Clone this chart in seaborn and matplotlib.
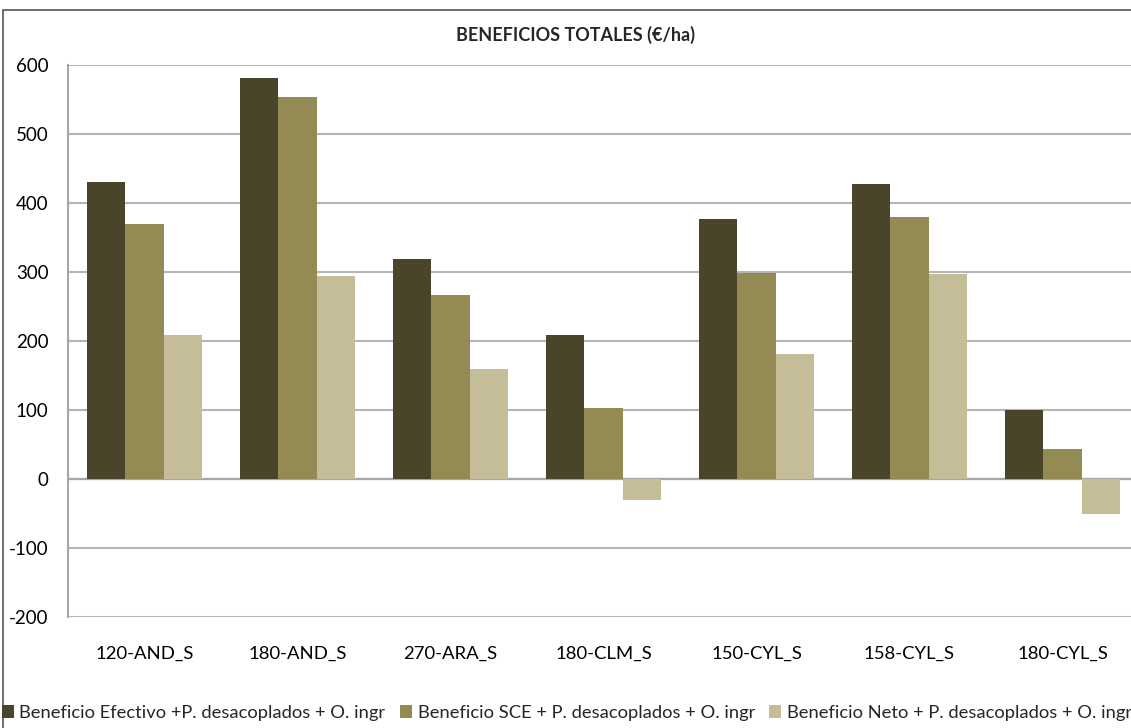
import pandas as pd
import seaborn as sns
import matplotlib.pyplot as plt
from matplotlib.patches import Rectangle

sns.set_style('white')
plt.rcParams['font.family'] = ['Lato', 'DejaVu Sans']
plt.rcParams['axes.unicode_minus'] = False

# datos (€/ha)
categorias = ['120-AND_S', '180-AND_S', '270-ARA_S', '180-CLM_S', '150-CYL_S', '158-CYL_S', '180-CYL_S']
series = ['Beneficio Efectivo +P. desacoplados + O. ingr',
          'Beneficio SCE + P. desacoplados + O. ingr',
          'Beneficio Neto + P. desacoplados + O. ingr']
efectivo = [430, 581, 319, 208, 377, 427, 100]
sce = [369, 553, 267, 103, 298, 379, 44]
neto = [208, 294, 160, -30, 181, 297, -51]
colores = ['#4A452A', '#948A54', '#C4BD97']

df = pd.DataFrame({
    'cat': categorias * 3,
    'serie': [series[0]] * 7 + [series[1]] * 7 + [series[2]] * 7,
    'valor': efectivo + sce + neto,
})

W, H = 1131, 728
fig = plt.figure(figsize=(W / 100, H / 100), dpi=100)
ax = fig.add_axes([68 / W, (H - 617) / H, 1071 / W, 552 / H])

sns.barplot(data=df, x='cat', y='valor', hue='serie', palette=colores,
            saturation=1, width=0.75, errorbar=None, ax=ax, linewidth=0, zorder=3)

ax.set_xlim(-0.5, 6.5)
ax.set_ylim(-200, 600)
ax.set_yticks(range(-200, 601, 100))
ax.set_xlabel('')
ax.set_ylabel('')
ax.yaxis.grid(True, color='#B5B5B5', lw=1.5)
ax.set_axisbelow(True)
ax.axhline(0, color='#A6A6A6', lw=1.6, zorder=2)
for s in ['top', 'right', 'bottom']:
    ax.spines[s].set_visible(False)
ax.spines['left'].set_color('#A6A6A6')
ax.spines['left'].set_linewidth(1.5)
ax.tick_params(axis='y', length=0, pad=14, labelsize=13.5, labelcolor='black')
ax.tick_params(axis='x', length=0, pad=21, labelsize=13.3, labelcolor='black')

handles, labels = ax.get_legend_handles_labels()
ax.legend_.remove()
fig.legend(handles, labels, ncol=3, loc='center left', bbox_to_anchor=(2 / W, 1 - 713 / H),
           frameon=False, fontsize=13.2, handlelength=0.65, handleheight=0.65,
           handletextpad=0.3, columnspacing=0.8, borderpad=0, borderaxespad=0)

fig.text(576 / W, 1 - 35 / H, 'BENEFICIOS TOTALES (€/ha)', ha='center', va='center',
         fontsize=13, fontweight='bold')

# marco del gráfico
fig.add_artist(Rectangle((3 / W, -0.1), 2, 1 - 10 / H + 0.1, transform=fig.transFigure,
                         fill=False, ec='#555555', lw=1.2))

fig.savefig('out.png', dpi=100, facecolor='white')
